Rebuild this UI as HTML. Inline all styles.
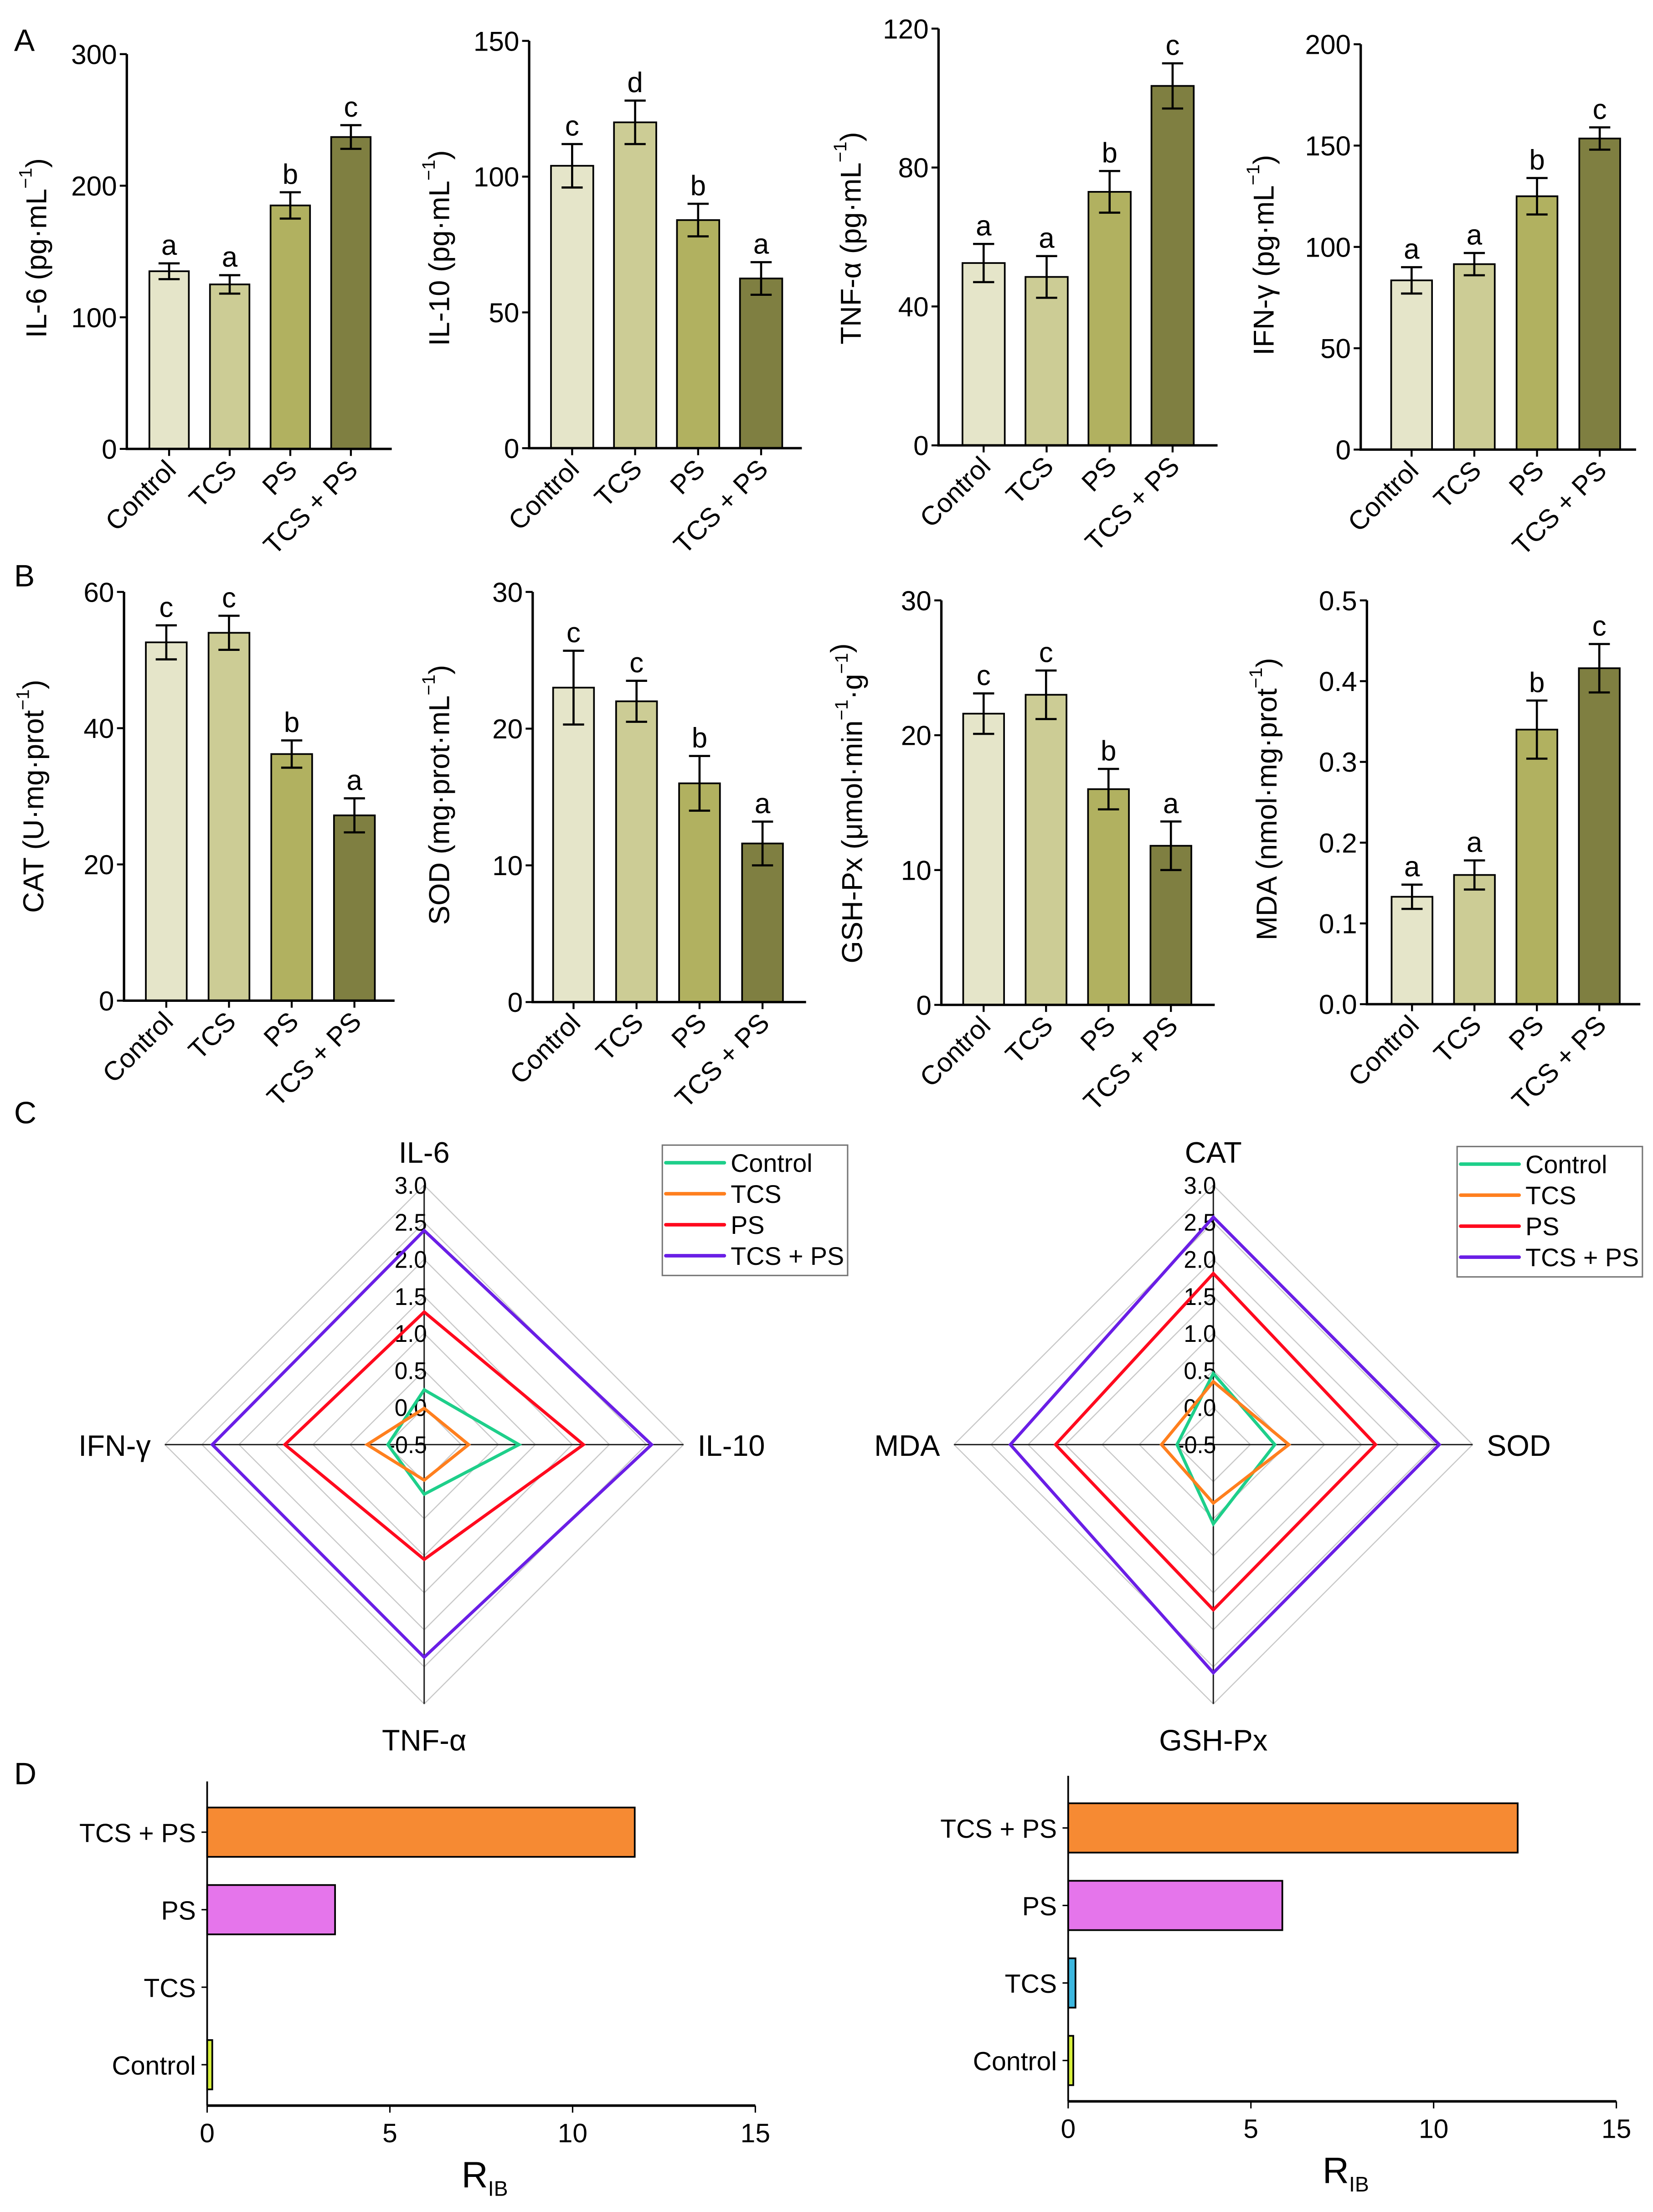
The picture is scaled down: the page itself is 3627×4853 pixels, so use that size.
<!DOCTYPE html>
<html><head><meta charset="utf-8">
<style>
html,body{margin:0;padding:0;background:#fff;}
svg{display:block;}
text{font-family:"Liberation Sans",Arial,sans-serif;fill:#000;}
</style></head>
<body>
<svg id="fig" xmlns="http://www.w3.org/2000/svg" width="3627" height="4853" viewBox="0 0 1173 1569.5" preserveAspectRatio="none">
<rect x="0" y="0" width="1173" height="1569.5" fill="#fff"/>
<text x="10" y="36" font-size="22">A</text>
<text x="10" y="416" font-size="22">B</text>
<text x="10" y="797" font-size="22">C</text>
<text x="10" y="1266" font-size="22">D</text>
</svg>
<script>
const NS='http://www.w3.org/2000/svg';
const svg=document.getElementById('fig');
function mk(tag,attrs,parent,txt){const e=document.createElementNS(NS,tag);for(const k in attrs)e.setAttribute(k,attrs[k]);if(txt!==undefined)e.textContent=txt;(parent||svg).appendChild(e);return e;}

// ---------- bar chart data ----------
const groups=['Control','TCS','PS','TCS + PS'];
const barColors=['#e5e5c9','#cccc95','#b1b160','#7f7f41'];
const il6Vals=[135,125,185,237];      const il6Err=[6,7,10,9];     const il6Let=['a','a','b','c'];
const il10Vals=[104,120,84,62.5];     const il10Err=[8,8,6,6];     const il10Let=['c','d','b','a'];
const tnfVals=[52.5,48.5,73,103.5];   const tnfErr=[5.5,6,6,6.5];  const tnfLet=['a','a','b','c'];
const ifnVals=[83.5,91.5,125,153.5];  const ifnErr=[6.5,5.5,9,5.5];const ifnLet=['a','a','b','c'];
const catVals=[52.6,54,36.2,27.2];    const catErr=[2.5,2.5,2,2.5];const catLet=['c','c','b','a'];
const sodVals=[23,22,16,11.6];        const sodErr=[2.7,1.5,2,1.6];const sodLet=['c','c','b','a'];
const gshVals=[21.6,23,16,11.8];      const gshErr=[1.5,1.8,1.5,1.8];const gshLet=['c','c','b','a'];
const mdaVals=[0.133,0.16,0.34,0.416];const mdaErr=[0.015,0.018,0.036,0.03];const mdaLet=['a','a','b','c'];
const il6Ticks=[0,100,200,300]; const il10Ticks=[0,50,100,150]; const tnfTicks=[0,40,80,120]; const ifnTicks=[0,50,100,150,200];
const catTicks=[0,20,40,60]; const sodTicks=[0,10,20,30]; const gshTicks=[0,10,20,30]; const mdaTicks=['0.0','0.1','0.2','0.3','0.4','0.5'];

function barChart(o){
  const g=mk('g',{});
  
  
  const max=parseFloat(o.ticks[o.ticks.length-1]);
  const y=v=>o.y0-(v/max)*(o.y0-o.yTop);
  o.vals.forEach((v,i)=>{
    const cx=o.x1+i*o.step;
    const r=mk('rect',{x:cx-o.bw/2,y:y(v),width:o.bw,height:o.y0-y(v),fill:barColors[i],stroke:'#000','stroke-width':1.2},g);
    
    
    const e=o.err[i];
    const eb=mk('path',{d:`M${cx},${y(v+e)}V${y(v-e)}M${cx-7.5},${y(v+e)}H${cx+7.5}M${cx-7.5},${y(v-e)}H${cx+7.5}`,stroke:'#000','stroke-width':1.5,fill:'none'},g);
    
    
    const t=mk('text',{x:cx,y:y(v+e)-6,'font-size':20,'text-anchor':'middle'},g,o.lets[i]);
    
    
    mk('line',{x1:cx,x2:cx,y1:o.y0,y2:o.y0+5,stroke:'#000','stroke-width':1.4},g);
    const xl=mk('text',{transform:`translate(${cx+6},${o.y0+16}) rotate(-45)`,'font-size':19,'text-anchor':'end'},g,groups[i]);
    
    
  });
  const ax=mk('path',{d:`M${o.ax},${o.yTop}V${o.y0}H${o.axEnd}`,stroke:'#000','stroke-width':1.7,fill:'none'},g);
  
  
  o.ticks.forEach(tk=>{
    const yy=y(parseFloat(tk));
    mk('line',{x1:o.ax-5,x2:o.ax,y1:yy,y2:yy,stroke:'#000','stroke-width':1.4},g);
    const tl=mk('text',{x:o.ax-7,y:yy+7,'font-size':19.5,'text-anchor':'end'},g,String(tk));
    
    
  });
  const tt=mk('text',{transform:`translate(${o.tx},${o.ty}) rotate(-90)`,'font-size':20.5,'text-anchor':'middle','dominant-baseline':'central'},g);
  
  
  tt.innerHTML=o.title;
}
const sup=s=>`<tspan dy="-8" font-size="13">${s}</tspan><tspan dy="8">`;
barChart({name:'il6',vals:il6Vals,err:il6Err,lets:il6Let,ticks:il6Ticks,ax:90,axEnd:278,y0:318.5,yTop:38.4,x1:120,step:43,bw:28,tx:26,ty:176,title:`IL-6 (pg·mL${sup('−1')})</tspan>`});
barChart({name:'il10',vals:il10Vals,err:il10Err,lets:il10Let,ticks:il10Ticks,ax:375.5,axEnd:569,y0:318,yTop:29,x1:406,step:44.7,bw:30,tx:312,ty:176,title:`IL-10 (pg·mL${sup('−1')})</tspan>`});
barChart({name:'tnf',vals:tnfVals,err:tnfErr,lets:tnfLet,ticks:tnfTicks,ax:666,axEnd:864,y0:316,yTop:20.3,x1:698,step:44.7,bw:30,tx:604,ty:169,title:`TNF-α (pg·mL${sup('−1')})</tspan>`});
barChart({name:'ifn',vals:ifnVals,err:ifnErr,lets:ifnLet,ticks:ifnTicks,ax:965.6,axEnd:1161,y0:319,yTop:31.4,x1:1001.7,step:44.5,bw:29,tx:897,ty:181,title:`IFN-γ (pg·mL${sup('−1')})</tspan>`});
barChart({name:'cat',vals:catVals,err:catErr,lets:catLet,ticks:catTicks,ax:88,axEnd:280,y0:710,yTop:420,x1:118,step:44.5,bw:29,tx:24,ty:565,title:`CAT (U·mg·prot${sup('−1')})</tspan>`});
barChart({name:'sod',vals:sodVals,err:sodErr,lets:sodLet,ticks:sodTicks,ax:378,axEnd:572,y0:711,yTop:420,x1:407,step:44.7,bw:29,tx:312,ty:564,title:`SOD (mg·prot·mL${sup('−1')})</tspan>`});
barChart({name:'gsh-px',vals:gshVals,err:gshErr,lets:gshLet,ticks:gshTicks,ax:668,axEnd:862,y0:713,yTop:426,x1:698,step:44.3,bw:29,tx:605,ty:570,title:`GSH-Px (μmol·min${sup('−1')}·g${sup('−1')}</tspan>)</tspan>`});
barChart({name:'mda',vals:mdaVals,err:mdaErr,lets:mdaLet,ticks:mdaTicks,ax:970,axEnd:1164,y0:712.5,yTop:426,x1:1002,step:44.3,bw:29,tx:899,ty:567,title:`MDA (nmol·mg·prot${sup('−1')})</tspan>`});

// ---------- radar data ----------
const radarSeries=['Control','TCS','PS','TCS + PS'];
const radarColors=['#1ecf8a','#ff7f1e','#ff0a1e','#6a1ee6'];
const radarTicks=['-0.5','0.0','0.5','1.0','1.5','2.0','2.5','3.0'];
const radar1Axes=['IL-6','IL-10','TNF-α','IFN-γ'];
const radar1Control=[0.24,0.78,0.17,-0.01];
const radar1TCS=[-0.01,0.10,-0.02,0.27];
const radar1PS=[1.29,1.65,1.05,1.38];
const radar1TCSPS=[2.39,2.57,2.37,2.36];
const radar2Axes=['CAT','SOD','GSH-Px','MDA'];
const radar2Control=[0.46,0.33,0.57,-0.01];
const radar2TCS=[0.35,0.52,0.29,0.20];
const radar2PS=[1.81,1.69,1.73,1.63];
const radar2TCSPS=[2.57,2.55,2.58,2.24];

function radar(o){
  const g=mk('g',{});
  
  
  const R=184, mn=-0.5, mx=3.0;
  const rr=v=>(v-mn)/(mx-mn)*R;
  const dirs=[[0,-1],[1,0],[0,1],[-1,0]];
  const pt=(v,k)=>[o.cx+dirs[k][0]*rr(v),o.cy+dirs[k][1]*rr(v)];
  radarTicks.forEach((t,i)=>{
    if(i===0)return;
    const v=parseFloat(t);
    const p=[0,1,2,3].map(k=>pt(v,k).join(',')).join(' ');
    const ring=mk('polygon',{points:p,fill:'none',stroke:'#c8c8c8','stroke-width':0.8},g);
    
    
  });
  mk('line',{x1:o.cx,x2:o.cx,y1:o.cy-R,y2:o.cy+R,stroke:'#222','stroke-width':1},g);
  mk('line',{x1:o.cx-R,x2:o.cx+R,y1:o.cy,y2:o.cy,stroke:'#222','stroke-width':1},g);
  radarTicks.forEach(t=>{
    const tl=mk('text',{x:o.cx+2,y:o.cy-rr(parseFloat(t))+6,'font-size':17,'text-anchor':'end',textLength:t.length>3?28:23,lengthAdjust:'spacingAndGlyphs'},g,t);
    
    
  });
  o.series.forEach((vals,s)=>{
    const p=vals.map((v,k)=>pt(v,k).join(',')).join(' ');
    const pl=mk('polygon',{points:p,fill:'none',stroke:radarColors[s],'stroke-width':2.2,'stroke-linejoin':'miter'},g);
    
    
  });
  const lab=[[o.cx,o.cy-R-16,'middle'],[o.cx+R+10,o.cy+8,'start'],[o.cx,o.cy+R+33,'middle'],[o.cx-R-10,o.cy+8,'end']];
  o.axes.forEach((a,k)=>{
    const t=mk('text',{x:lab[k][0],y:lab[k][1],'font-size':21,'text-anchor':lab[k][2]},g,a);
    
    
  });
  const lg=mk('g',{},g);
  
  
  mk('rect',{x:o.lx,y:o.ly,width:131.5,height:92.5,fill:'#fff',stroke:'#777','stroke-width':1},lg);
  radarSeries.forEach((s,i)=>{
    const yy=o.ly+12.5+i*22;
    mk('line',{x1:o.lx+2.5,x2:o.lx+44,y1:yy,y2:yy,stroke:radarColors[i],'stroke-width':2.5,'stroke-linecap':'round'},lg);
    const t=mk('text',{x:o.lx+48.5,y:yy+6.5,'font-size':18},lg,s);
    
    
  });
}
radar({name:'radar-inflammation',cx:301,cy:1025,axes:radar1Axes,series:[radar1Control,radar1TCS,radar1PS,radar1TCSPS],lx:470,ly:812.5});
radar({name:'radar-oxidative',cx:861,cy:1025,axes:radar2Axes,series:[radar2Control,radar2TCS,radar2PS,radar2TCSPS],lx:1034,ly:813.5});

// ---------- IBR data ----------
const ibrCats=['TCS + PS','PS','TCS','Control'];
const ibrColors=['#f68a33','#e575eb','#3cb7df','#d6ef3c'];
const ibr1Vals=[11.7,3.5,0,0.14];
const ibr2Vals=[12.3,5.86,0.2,0.14];
const ibrTicks=[0,5,10,15];
function ibr(o){
  const g=mk('g',{});
  
  
  const x=v=>o.ax+v/15*o.w;
  o.vals.forEach((v,i)=>{
    const cy=o.c0+i*o.step;
    if(v>0){
      const r=mk('rect',{x:o.ax,y:cy-17.5,width:x(v)-o.ax,height:35,fill:ibrColors[i],stroke:'#000','stroke-width':1.2},g);
      
      
    }
    mk('line',{x1:o.ax-4,x2:o.ax,y1:cy,y2:cy,stroke:'#000','stroke-width':1},g);
    const t=mk('text',{x:o.ax-8,y:cy+7,'font-size':18.5,'text-anchor':'end'},g,ibrCats[i]);
    
    
  });
  mk('line',{x1:o.ax,x2:o.ax,y1:o.top,y2:o.y0,stroke:'#000','stroke-width':1.2},g);
  mk('line',{x1:o.ax,x2:o.ax+o.w,y1:o.y0,y2:o.y0,stroke:'#000','stroke-width':1.8},g);
  ibrTicks.forEach(tk=>{
    mk('line',{x1:x(tk),x2:x(tk),y1:o.y0,y2:o.y0+5,stroke:'#000','stroke-width':1},g);
    const t=mk('text',{x:x(tk),y:o.y0+26,'font-size':19,'text-anchor':'middle'},g,String(tk));
    
    
  });
  const tt=mk('text',{x:o.ax+0.5*o.w-14,y:o.y0+58,'font-size':26},g);
  
  
  tt.innerHTML='R<tspan font-size="15" dy="6">IB</tspan>';
}
ibr({name:'ibr-chart-left',ax:147,w:389,top:1264,y0:1494,c0:1300,step:55,vals:ibr1Vals});
ibr({name:'ibr-chart-right',ax:758,w:389,top:1260,y0:1491,c0:1297,step:55,vals:ibr2Vals});
</script>
</body></html>
